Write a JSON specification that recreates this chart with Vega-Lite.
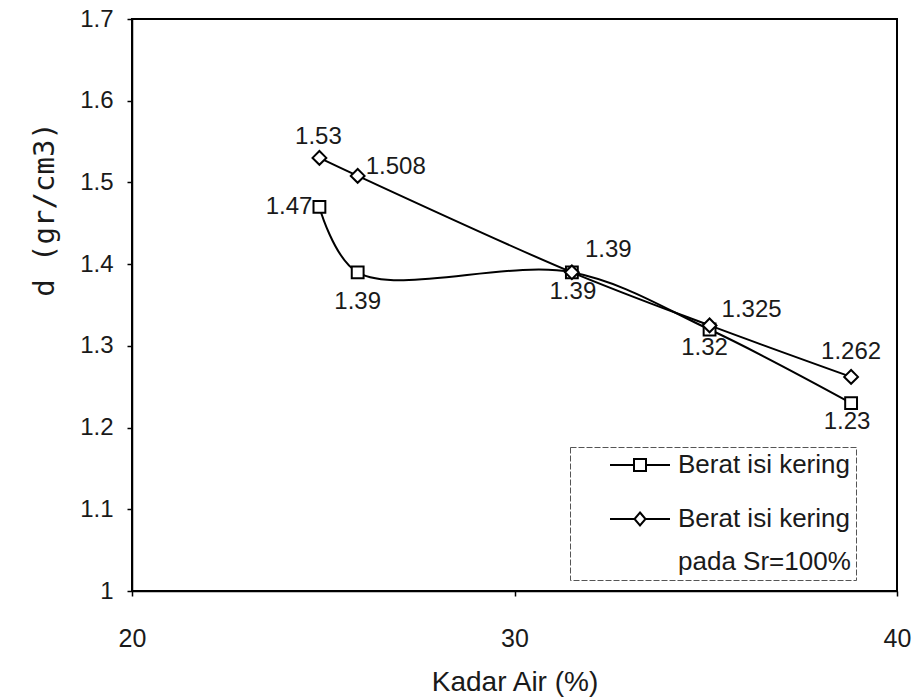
{
  "$schema": "https://vega.github.io/schema/vega-lite/v6.json",
  "width": 765,
  "height": 572,
  "autosize": {"type": "none"},
  "padding": {"left": 132, "top": 19, "right": 15, "bottom": 109},
  "background": "white",
  "config": {
    "view": {"stroke": "black", "strokeWidth": 2},
    "font": "Liberation Sans",
    "axis": {"grid": false, "domainColor": "black", "domainWidth": 1.5, "tickColor": "black", "tickWidth": 1.5, "labelColor": "#1a1a1a", "titleColor": "#1a1a1a", "labelFont": "Liberation Sans", "titleFont": "Liberation Sans", "titleFontWeight": "normal", "labelFlush": false},
    "text": {"font": "Liberation Sans", "fontSize": 24, "color": "#1a1a1a"}
  },
  "data": {
    "values": [
      {"series": "Berat isi kering", "x": 24.9, "d": 1.47},
      {"series": "Berat isi kering", "x": 25.9, "d": 1.39},
      {"series": "Berat isi kering", "x": 31.5, "d": 1.39},
      {"series": "Berat isi kering", "x": 35.1, "d": 1.32},
      {"series": "Berat isi kering", "x": 38.8, "d": 1.23},
      {"series": "Berat isi kering pada Sr=100%", "x": 24.9, "d": 1.53},
      {"series": "Berat isi kering pada Sr=100%", "x": 25.9, "d": 1.508},
      {"series": "Berat isi kering pada Sr=100%", "x": 31.5, "d": 1.39},
      {"series": "Berat isi kering pada Sr=100%", "x": 35.1, "d": 1.325},
      {"series": "Berat isi kering pada Sr=100%", "x": 38.8, "d": 1.262}
    ]
  },
  "encoding": {
    "x": {"field": "x", "type": "quantitative", "scale": {"domain": [20, 40], "nice": false, "zero": false},
      "axis": {"values": [20, 30, 40], "title": "Kadar Air (%)", "labelFontSize": 25, "titleFontSize": 28, "tickSize": 5, "labelPadding": 30, "titlePadding": 17, "labelFlush": false}},
    "y": {"field": "d", "type": "quantitative", "scale": {"domain": [1, 1.7], "nice": false, "zero": false},
      "axis": {"values": [1, 1.1, 1.2, 1.3, 1.4, 1.5, 1.6, 1.7], "format": "~g", "title": "d (gr/cm3)", "labelFontSize": 24, "tickSize": 5, "labelPadding": 14, "labelFlush": false,
        "titleFont": "DejaVu Sans Mono", "titleFontSize": 29, "titleX": -88, "titleY": 190, "titleBaseline": "middle", "titleAlign": "center", "titleAngle": -90}}
  },
  "layer": [
    {
      "mark": {"type": "line", "interpolate": "catmull-rom", "strokeWidth": 2},
      "encoding": {
        "color": {"field": "series", "type": "nominal",
          "scale": {"domain": ["Berat isi kering", "Berat isi kering pada Sr=100%"], "range": ["black", "black"]},
          "legend": {
            "orient": "none", "legendX": 438, "legendY": 428, "title": null,
            "strokeColor": "#555", "padding": 5,
            "symbolSize": 400, "symbolType": "stroke", "labelFontSize": 26, "labelFont": "Liberation Sans", "labelColor": "#1a1a1a",
            "rowPadding": 28, "symbolOffset": 52, "labelOffset": 25, "labelLimit": 400,
            "labelExpr": "datum.label == 'Berat isi kering pada Sr=100%' ? ['Berat isi kering', 'pada Sr=100%'] : datum.label",
            "encode": {
              "legend": {"update": {"strokeDash": {"value": [6, 2]}, "strokeWidth": {"value": 1}, "width": {"value": 305}}},
              "symbols": {"update": {
                "shape": {"signal": "datum.value == 'Berat isi kering' ? 'M-3,0H-0.6M0.6,0H3M-0.6,-0.6H0.6V0.6H-0.6Z' : 'M-3,0H-0.55M0.55,0H3M0,-0.65L0.55,0L0,0.65L-0.55,0Z'"},
                "fill": {"value": "white"}, "stroke": {"value": "black"}, "strokeWidth": {"value": 2}}},
              "labels": {"update": {"lineHeight": {"value": 43}}}
            }
          }
        }
      }
    },
    {
      "transform": [{"filter": "datum.series === 'Berat isi kering'"}],
      "mark": {"type": "point", "shape": "square", "size": 140, "filled": true, "fill": "white", "stroke": "black", "strokeWidth": 2, "opacity": 1}
    },
    {
      "transform": [{"filter": "datum.series !== 'Berat isi kering'"}],
      "mark": {"type": "point", "shape": "diamond", "size": 190, "filled": true, "fill": "white", "stroke": "black", "strokeWidth": 2, "opacity": 1}
    },
    {"transform": [{"filter": "datum.series === 'Berat isi kering' && datum.x === 24.9"}],
     "mark": {"type": "text", "align": "right", "dx": -7, "dy": 0}, "encoding": {"text": {"field": "d", "type": "quantitative", "format": ".3~f"}}},
    {"transform": [{"filter": "datum.series === 'Berat isi kering' && datum.x === 25.9"}],
     "mark": {"type": "text", "align": "center", "dx": 0, "dy": 30}, "encoding": {"text": {"field": "d", "type": "quantitative", "format": ".3~f"}}},
    {"transform": [{"filter": "datum.series === 'Berat isi kering' && datum.x === 31.5"}],
     "mark": {"type": "text", "align": "center", "dx": 1, "dy": 20}, "encoding": {"text": {"field": "d", "type": "quantitative", "format": ".3~f"}}},
    {"transform": [{"filter": "datum.series === 'Berat isi kering' && datum.x === 35.1"}],
     "mark": {"type": "text", "align": "center", "dx": -5, "dy": 18}, "encoding": {"text": {"field": "d", "type": "quantitative", "format": ".3~f"}}},
    {"transform": [{"filter": "datum.series === 'Berat isi kering' && datum.x === 38.8"}],
     "mark": {"type": "text", "align": "center", "dx": -4, "dy": 19}, "encoding": {"text": {"field": "d", "type": "quantitative", "format": ".3~f"}}},
    {"transform": [{"filter": "datum.series !== 'Berat isi kering' && datum.x === 24.9"}],
     "mark": {"type": "text", "align": "center", "dx": -1, "dy": -21}, "encoding": {"text": {"field": "d", "type": "quantitative", "format": ".3~f"}}},
    {"transform": [{"filter": "datum.series !== 'Berat isi kering' && datum.x === 25.9"}],
     "mark": {"type": "text", "align": "left", "dx": 8, "dy": -9}, "encoding": {"text": {"field": "d", "type": "quantitative", "format": ".3~f"}}},
    {"transform": [{"filter": "datum.series !== 'Berat isi kering' && datum.x === 31.5"}],
     "mark": {"type": "text", "align": "left", "dx": 13, "dy": -22}, "encoding": {"text": {"field": "d", "type": "quantitative", "format": ".3~f"}}},
    {"transform": [{"filter": "datum.series !== 'Berat isi kering' && datum.x === 35.1"}],
     "mark": {"type": "text", "align": "left", "dx": 12, "dy": -15}, "encoding": {"text": {"field": "d", "type": "quantitative", "format": ".3~f"}}},
    {"transform": [{"filter": "datum.series !== 'Berat isi kering' && datum.x === 38.8"}],
     "mark": {"type": "text", "align": "center", "dx": 0, "dy": -25}, "encoding": {"text": {"field": "d", "type": "quantitative", "format": ".3~f"}}}
  ]
}
